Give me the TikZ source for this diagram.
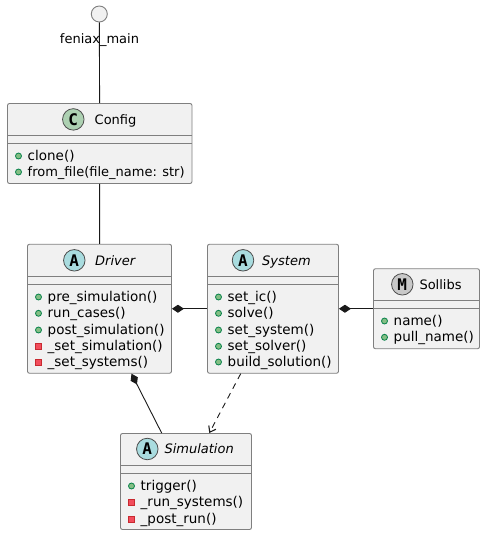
\documentclass[tikz,border=0pt]{standalone}
\usepackage{fontspec}
\setmainfont{DejaVu Sans}
\newfontfamily\spotfont{DejaVu Sans Mono}[Scale=1.0]
\usetikzlibrary{arrows.meta}
\definecolor{boxfill}{HTML}{F1F1F1}
\definecolor{boxline}{HTML}{7F7F7F}
\definecolor{spotA}{HTML}{A9DCDF}
\definecolor{spotC}{HTML}{ADD1B2}
\definecolor{spotM}{HTML}{C8C8C8}
\definecolor{pubfill}{HTML}{84BE84}
\definecolor{publine}{HTML}{038048}
\definecolor{privfill}{HTML}{F24D5C}
\definecolor{privline}{HTML}{C82930}
\tikzset{
  classbox/.style={draw=boxline, fill=boxfill, line width=0.9pt, rounded corners=2pt, inner sep=0pt},
  spot/.style={circle, draw=black!70, line width=0.8pt, minimum size=21.5pt, inner sep=0pt, text=black, font=\fontsize{16}{16}\selectfont\spotfont\bfseries},
  title/.style={anchor=west, inner sep=0pt, text height=12.5pt, text depth=3pt, text=black, font=\fontsize{13}{15}\selectfont},
  member/.style={anchor=west, inner sep=0pt, text height=11pt, text depth=3pt, text=black, font=\fontsize{13.5}{15}\selectfont},
  pubmark/.style={circle, draw=publine, fill=pubfill, line width=0.8pt, minimum size=6pt, inner sep=0pt},
  privmark/.style={rectangle, draw=privline, fill=privfill, line width=0.8pt, minimum size=6pt, inner sep=0pt},
  link/.style={line width=0.9pt, draw=black!90},
  owns/.style={link, {Diamond[fill=black!90, length=12pt, width=8pt]}-},
}
\begin{document}
\begin{tikzpicture}[x=1pt, y=-1pt]
  \useasboundingbox (0,0) rectangle (485,535);
  % boxes
  \node[classbox, minimum width=184.5pt, minimum height=80pt] (Config) at (99.75,143.5) {};
  \node[classbox, minimum width=144pt, minimum height=129pt] (Driver) at (99.5,308.75) {};
  \node[classbox, minimum width=131pt, minimum height=129pt] (System) at (273,308.75) {};
  \node[classbox, minimum width=106pt, minimum height=80pt] (Sollibs) at (426.5,308.75) {};
  \node[classbox, minimum width=131pt, minimum height=96pt] (Simulation) at (186,481.5) {};
  \node[circle, draw=boxline, fill=boxfill, line width=0.9pt, minimum size=16pt, inner sep=0pt] (main) at (99.3,14) {};
  % separators
  \foreach \cls/\a/\b in {Config/135.7/143.4, Driver/276/284.4, System/276/284.4, Sollibs/300.5/308.5, Simulation/465.7/473.5}{
    \draw[boxline, line width=0.9pt] (\cls.west |- 0,\a) -- (\cls.east |- 0,\a);
    \draw[boxline, line width=0.9pt] (\cls.west |- 0,\b) -- (\cls.east |- 0,\b);
  }
  % connectors
  \draw[link] (main) -- (Config);
  \draw[link] (Config) -- (Driver);
  \draw[owns] (Driver.east) -- (System.west);
  \draw[owns] (System.east) -- (Sollibs.west);
  \draw[owns] ([xshift=32pt]Driver.south) -- ([xshift=-24.3pt]Simulation.north);
  \draw[link, dashed, dash pattern=on 6pt off 5pt, -{Straight Barb[length=5.5pt, width=8pt, line width=1.1pt]}] ([xshift=-32.3pt]System.south) -- ([xshift=23.3pt]Simulation.north);
  \node[anchor=base, inner sep=0pt, text=black, font=\fontsize{13}{15}\selectfont] (mainlabel) at (99.5,44) {feniax\_main};
  % titles
  \node[spot, fill=spotC] (ConfigSpot) at (73.3,119.4) {C};
  \node[title] (ConfigTitle) at (94.5,119.4) {Config};
  \node[spot, fill=spotA] (DriverSpot) at (74.3,260.3) {A};
  \node[title] (DriverTitle) at (95,260.3) {\itshape Driver};
  \node[spot, fill=spotA] (SystemSpot) at (243,260.3) {A};
  \node[title] (SystemTitle) at (262,260.3) {\itshape System};
  \node[spot, fill=spotM] (SollibsSpot) at (402.3,284.3) {M};
  \node[title] (SollibsTitle) at (419.3,284.3) {Sollibs};
  \node[spot, fill=spotA] (SimulationSpot) at (147.3,449) {A};
  \node[title] (SimulationTitle) at (164.3,449) {\itshape Simulation};
  % members
  \foreach \i/\x/\y/\kind/\txt in {
    a/18.5/156/pubmark/clone(),
    b/18.5/172/pubmark/\fontsize{13}{15}\selectfont from\_file(file\_name: str),
    c/38.5/297/pubmark/pre\_simulation(),
    d/38.5/313.3/pubmark/run\_cases(),
    e/38.5/330/pubmark/post\_simulation(),
    f/38.5/346.3/privmark/\_set\_simulation(),
    g/38.5/362/privmark/\_set\_systems(),
    h/218.5/297/pubmark/set\_ic(),
    i/218.5/313.3/pubmark/solve(),
    j/218.5/330/pubmark/set\_system(),
    k/218.5/346.3/pubmark/set\_solver(),
    l/218.5/362/pubmark/build\_solution(),
    m/384.5/321/pubmark/name(),
    n/384.5/337.3/pubmark/pull\_name(),
    o/131.5/486/pubmark/trigger(),
    p/131.5/502/privmark/\_run\_systems(),
    q/131.5/519/privmark/\_post\_run()}{
    \node[\kind] (mark\i) at (\x,\y) {};
    \node[member] (row\i) at (\x+9,\y) {\txt};
  }
\end{tikzpicture}
\end{document}
